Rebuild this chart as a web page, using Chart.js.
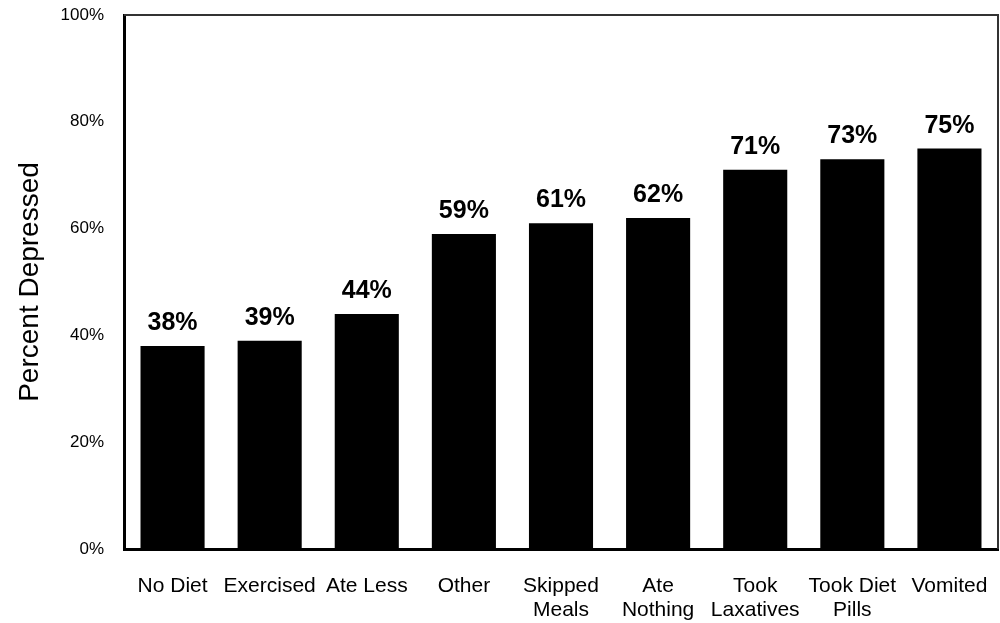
<!DOCTYPE html>
<html>
<head>
<meta charset="utf-8">
<script src="https://cdn.jsdelivr.net/npm/chart.js@4.4.1/dist/chart.umd.min.js"></script>
<style>
    html, body { margin: 0; padding: 0; background: #fff; }
    #wrap { width: 1000px; height: 623px; }
</style>
</head>
<body>
<div id="wrap"><canvas id="myChart" width="1000" height="623"></canvas></div>
<script>
const categories = [
    'No Diet', 'Exercised', 'Ate Less', 'Other', ['Skipped', 'Meals'],
    ['Ate', 'Nothing'], ['Took', 'Laxatives'], ['Took Diet', 'Pills'], 'Vomited'
];
const percentDepressed = [38, 39, 44, 59, 61, 62, 71, 73, 75];
const yTicks = [0, 20, 40, 60, 80, 100];

const FONT = '"Liberation Sans", Arial, sans-serif';

// value labels above each bar
const valueLabels = {
    id: 'valueLabels',
    afterDatasetsDraw(chart) {
        const ctx = chart.ctx;
        const meta = chart.getDatasetMeta(0);
        ctx.save();
        ctx.font = 'bold 25px ' + FONT;
        ctx.fillStyle = '#000';
        ctx.textAlign = 'center';
        ctx.textBaseline = 'alphabetic';
        meta.data.forEach((bar, i) => {
            ctx.fillText(percentDepressed[i] + '%', bar.x, bar.y - 16);
        });
        ctx.restore();
    }
};

// top and right edges of the plot box
const boxEdges = {
    id: 'boxEdges',
    afterDraw(chart) {
        const { ctx, chartArea: a } = chart;
        ctx.save();
        ctx.strokeStyle = '#333';
        ctx.lineWidth = 2;
        ctx.beginPath();
        ctx.moveTo(a.left, a.top);
        ctx.lineTo(a.right, a.top);
        ctx.lineTo(a.right, a.bottom);
        ctx.stroke();
        ctx.restore();
    }
};

const ctx = document.getElementById('myChart').getContext('2d');
new Chart(ctx, {
    type: 'bar',
    data: {
        labels: categories,
        datasets: [{
            data: percentDepressed,
            backgroundColor: '#000',
            borderWidth: 0,
            categoryPercentage: 1,
            barPercentage: 0.66
        }]
    },
    options: {
        responsive: false,
        animation: false,
        layout: { padding: { top: 15, right: 2, left: 0, bottom: 0 } },
        plugins: {
            legend: { display: false },
            tooltip: { enabled: false }
        },
        scales: {
            x: {
                grid: { display: false, drawTicks: false },
                border: { display: true, color: '#000', width: 3 },
                ticks: {
                    color: '#000',
                    font: { family: FONT, size: 21, lineHeight: 1.15 },
                    padding: 25,
                    maxRotation: 0,
                    autoSkip: false
                },
                afterFit(axis) {
                    axis.height = 74;
                    axis.paddingLeft = 0;
                    axis.paddingRight = 0;
                }
            },
            y: {
                min: 0,
                max: 100,
                afterBuildTicks(axis) { axis.ticks = yTicks.map(v => ({ value: v })); },
                grid: { display: false, drawTicks: false },
                border: { display: true, color: '#000', width: 3 },
                ticks: {
                    color: '#000',
                    font: { family: FONT, size: 17 },
                    padding: 20,
                    callback: v => v + '%'
                },
                title: {
                    display: true,
                    text: 'Percent Depressed',
                    color: '#000',
                    font: { family: FONT, size: 28 },
                    padding: { top: 13, bottom: 0 }
                },
                afterFit(axis) {
                    axis.width = 124;
                    axis.paddingTop = 0;
                    axis.paddingBottom = 0;
                }
            }
        }
    },
    plugins: [valueLabels, boxEdges]
});
</script>
</body>
</html>
